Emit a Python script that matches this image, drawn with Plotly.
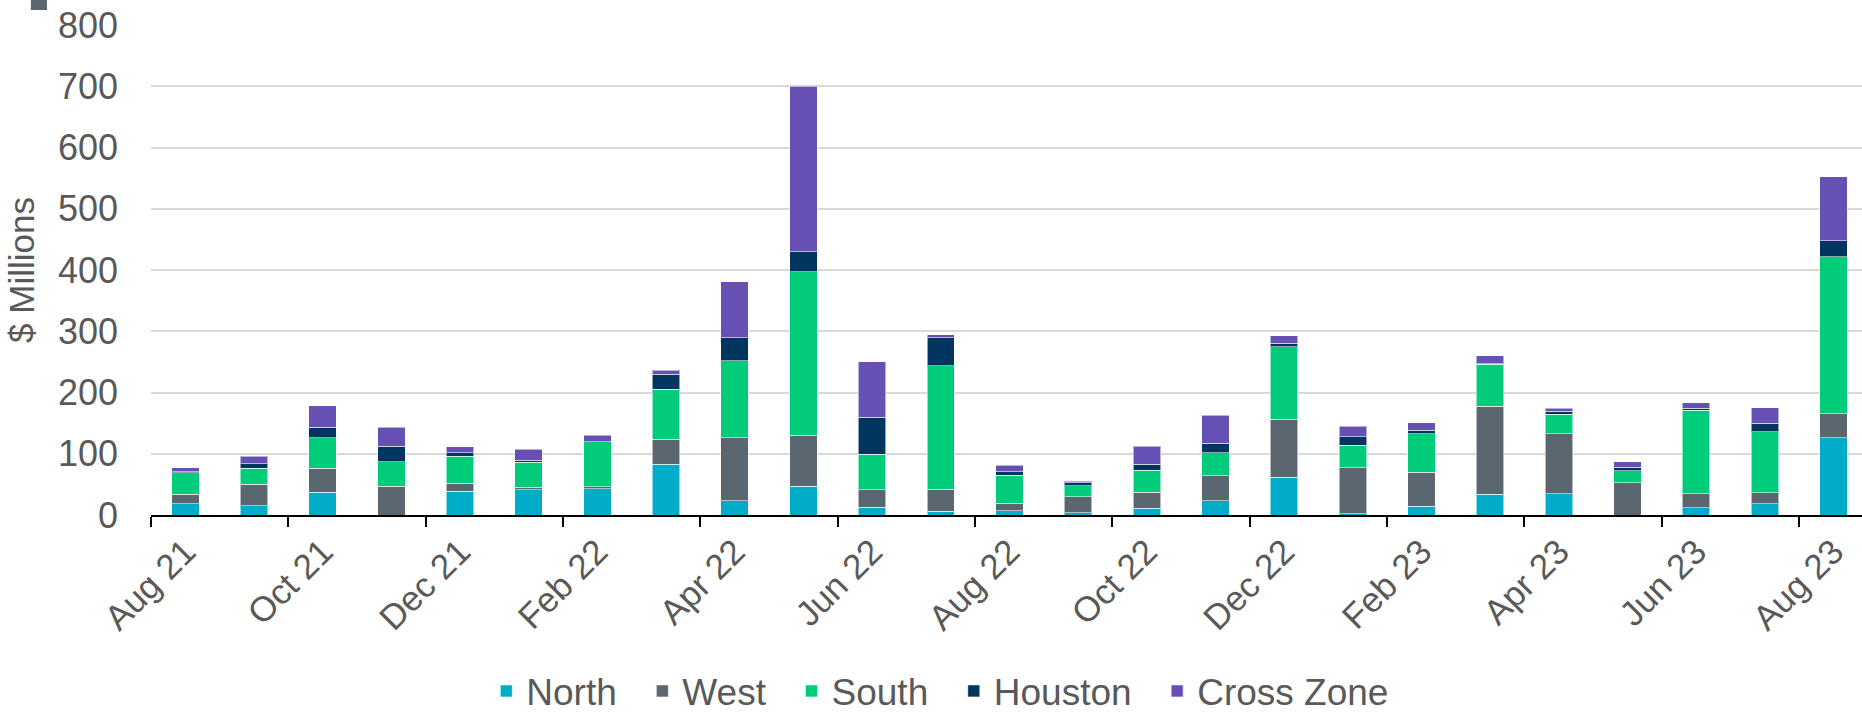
import plotly.graph_objects as go

months = ["Aug 21", "Sep 21", "Oct 21", "Nov 21", "Dec 21", "Jan 22", "Feb 22", "Mar 22",
          "Apr 22", "May 22", "Jun 22", "Jul 22", "Aug 22", "Sep 22", "Oct 22", "Nov 22",
          "Dec 22", "Jan 23", "Feb 23", "Mar 23", "Apr 23", "May 23", "Jun 23", "Jul 23", "Aug 23"]

north = [18, 15, 37.5, 0, 39, 41, 42.5, 83, 23, 47, 13, 6, 7, 4, 11, 23,
         62, 2, 14, 33.5, 34.5, 0, 12, 18, 126]
west = [16, 35, 39, 47, 13, 4.5, 3.5, 41, 103, 83, 28.5, 36, 12.5, 25.5, 26.5, 41,
        94, 75, 55.5, 144, 98, 52.5, 23, 18, 39]
south = [35, 26, 49.5, 40, 44, 40.5, 74, 81.5, 125.5, 267, 58, 202, 45.5, 18.5, 35.5, 38,
         119, 36.5, 63.5, 68.5, 32, 20, 136, 100, 257]
houston = [2, 8, 17, 25, 5.5, 3.5, 0, 24.5, 38, 33, 60, 45.5, 6, 4.5, 10, 15,
           5.5, 14, 5, 1, 4.5, 5.5, 3, 13.5, 25.5]
cross_zone = [6, 12, 35, 31.5, 10, 18, 10, 6.5, 91, 270, 91, 4.5, 10, 3, 29, 46,
              12.5, 17, 12.5, 13, 5, 9, 9, 25.5, 105]

series = [
    ("North", north, "#00ACC8"),
    ("West", west, "#5B6770"),
    ("South", south, "#00CC7A"),
    ("Houston", houston, "#00355F"),
    ("Cross Zone", cross_zone, "#6750B3"),
]

FONT = "Liberation Sans, Arial, sans-serif"
GRAY = "#595959"
PAD = "\u00a0\u00a0"

fig = go.Figure()
for i, (name, vals, color) in enumerate(series):
    label = name + (PAD if i < len(series) - 1 else "")
    fig.add_trace(go.Bar(
        x=months, y=vals, name=label,
        hovertemplate=name + ": %{y}<extra></extra>",
        marker=dict(color=color, line=dict(width=1, color="rgba(255,255,255,0.55)")),
    ))

fig.update_layout(
    barmode="stack",
    bargap=0.6,
    width=1862, height=714,
    margin=dict(l=151, r=0, t=25, b=199, autoexpand=False),
    plot_bgcolor="white", paper_bgcolor="white",
    font=dict(family=FONT, size=34, color=GRAY),
    legend=dict(orientation="h", xref="container", x=0.505, xanchor="center",
                yref="paper", y=-0.36, yanchor="middle", maxheight=200,
                font=dict(size=37, color=GRAY), traceorder="normal",
                itemwidth=30, tracegroupgap=0),
    showlegend=True,
)

fig.update_xaxes(
    type="category",
    categoryorder="array", categoryarray=months,
    range=[-0.5, 24.415],
    tickmode="array", tickvals=months[::2], ticktext=months[::2],
    tickson="boundaries",
    ticks="outside", ticklen=10, tickwidth=2, tickcolor="black",
    showline=True, linecolor="black", linewidth=2,
    tickangle=-45,
    tickfont=dict(size=35, color=GRAY, family=FONT),
    showgrid=False,
    automargin=False,
)

fig.update_yaxes(
    range=[0, 800], dtick=100,
    showgrid=True, gridcolor="#D9D9D9", gridwidth=2,
    zeroline=False, showline=False,
    ticks="", ticklabelstandoff=32,
    tickfont=dict(size=36, color=GRAY, family=FONT),
    title=dict(text="$ Millions", font=dict(size=35, color=GRAY, family=FONT), standoff=12),
    automargin=False,
)

fig.add_shape(type="rect", xref="paper", yref="paper",
              x0=-0.0702, x1=-0.0608, y0=1.0306, y1=1.06,
              fillcolor="#5B6770", line=dict(width=0), layer="above")

fig.write_html("out.html",
               config={"displayModeBar": False},
               post_script="document.body.style.margin='0';document.body.style.overflow='hidden';")
